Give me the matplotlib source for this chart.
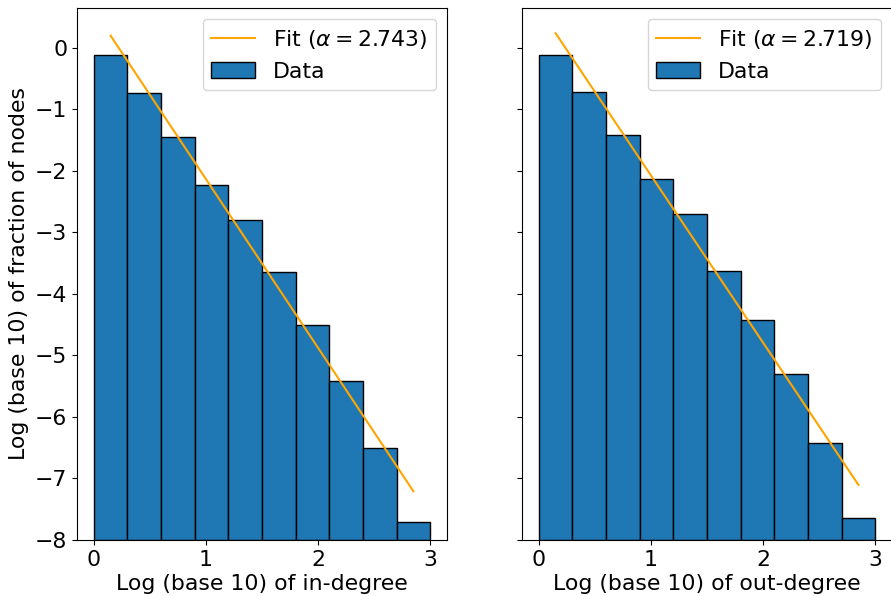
import numpy as np
import matplotlib
matplotlib.use("Agg")
import matplotlib.pyplot as plt

bin_edges = [0.0, 0.3, 0.6, 0.9, 1.2, 1.5, 1.8, 2.1, 2.4, 2.7]
bin_width = 0.3
in_vals = [-0.11, -0.74, -1.45, -2.23, -2.79, -3.65, -4.50, -5.42, -6.50, -7.70]
out_vals = [-0.12, -0.715, -1.41, -2.13, -2.70, -3.62, -4.42, -5.30, -6.43, -7.64]
fit_x = [0.15, 0.45, 0.75, 1.05, 1.35, 1.65, 1.95, 2.25, 2.55, 2.85]
in_alpha, in_intercept = 2.743, 0.61
out_alpha, out_intercept = 2.719, 0.645
base = -8

plt.rcParams['font.size'] = 15.8

fig = plt.figure(figsize=(8.91, 5.96), dpi=100)
ax1 = fig.add_axes([0.0864, 0.094, 0.4153, 0.8926])
ax2 = fig.add_axes([0.5859, 0.094, 0.4153, 0.8926], sharey=ax1)

panels = [
    (ax1, in_vals, in_alpha, in_intercept, "Log (base 10) of in-degree"),
    (ax2, out_vals, out_alpha, out_intercept, "Log (base 10) of out-degree"),
]
for ax, vals, alpha, c, xlabel in panels:
    heights = [v - base for v in vals]
    ax.bar(bin_edges, heights, width=bin_width, bottom=base, align='edge',
           color='C0', edgecolor='black', label='Data')
    fx = np.array(fit_x)
    ax.plot(fx, c - alpha * fx, color='orange', lw=1.5,
            label=r'Fit ($\alpha = %.3f$)' % alpha)
    ax.set_xlabel(xlabel, labelpad=3)
    ax.set_xticks([0, 1, 2, 3])
    ax.legend(loc='upper right')

ax1.set_ylabel("Log (base 10) of fraction of nodes")
ax1.set_yticks(range(-8, 1))
plt.setp(ax2.get_yticklabels(), visible=False)

fig.savefig("out.png", dpi=100)
